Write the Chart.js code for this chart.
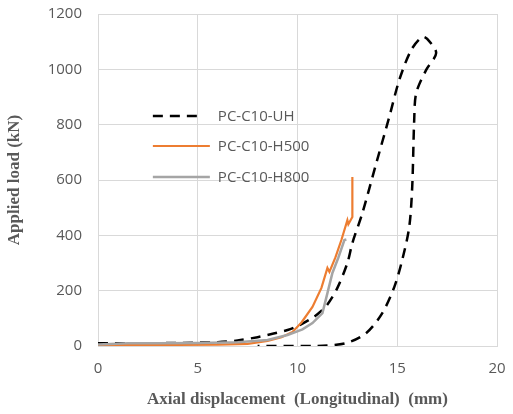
<!DOCTYPE html>
<html>
<head>
<meta charset="utf-8">
<script src="https://cdn.jsdelivr.net/npm/chart.js@4.4.1/dist/chart.umd.min.js"></script>
<style>
  html, body { margin: 0; padding: 0; background: #fff; }
  #wrap { width: 513px; height: 414px; }
</style>
</head>
<body>
<div id="wrap"><canvas id="loadChart" width="513" height="414"></canvas></div>
<script>
// load-displacement curves
const uhX = [0, 2, 4, 6, 7, 8, 8.8, 9.5, 10, 10.6, 11, 11.5, 12, 12.5, 12.75, 13.25, 13.95, 14.6, 15.1, 15.7, 16.25, 16.5, 16.95, 16.45, 15.95, 15.85, 15.75, 15.6, 15.25, 14.85, 14.25, 13.45, 12.45, 11, 8];
const uhY = [10, 10, 11, 14, 20, 32, 45, 58, 72, 95, 115, 150, 210, 300, 372, 480, 661, 828, 961, 1070, 1117, 1110, 1059, 998, 914, 817, 575, 430, 311, 213, 119, 47, 11, 0, 0];

const h500X = [0, 2, 4, 6, 7.5, 8.5, 9.2, 9.75, 10.2, 10.75, 11.2, 11.5, 11.6, 11.9, 12.2, 12.5, 12.55, 12.75, 12.75];
const h500Y = [3, 3, 4, 5, 8, 18, 32, 51, 85, 141, 210, 282, 268, 320, 383, 455, 440, 466, 611];

const h800X = [0, 1.5, 3, 5, 7, 8.5, 9.5, 10.25, 10.75, 11.25, 11.5, 11.75, 12.05, 12.35, 12.45];
const h800Y = [5, 10, 10, 11, 14, 22, 40, 60, 83, 119, 191, 264, 320, 383, 385];

const seriesNames = ['PC-C10-UH', 'PC-C10-H500', 'PC-C10-H800'];
const xTicks = [0, 5, 10, 15, 20];
const yTicks = [0, 200, 400, 600, 800, 1000, 1200];

function pts(xs, ys) {
  return xs.map((x, i) => ({ x: x, y: ys[i] }));
}

// legend drawn inside the plot area, like the original
const insideLegend = {
  id: 'insideLegend',
  afterDatasetsDraw(chart) {
    const ctx = chart.ctx;
    const x0 = chart.scales.x.getPixelForValue(2.75);
    const rows = [116, 146, 177];
    ctx.save();
    chart.data.datasets.forEach((ds, i) => {
      const y = rows[i];
      ctx.beginPath();
      ctx.strokeStyle = ds.borderColor;
      ctx.lineWidth = ds.borderWidth;
      ctx.setLineDash(ds.borderDash || []);
      ctx.moveTo(x0, y);
      ctx.lineTo(x0 + (ds.borderDash ? 48 : 57), y);
      ctx.stroke();
      ctx.setLineDash([]);
      ctx.fillStyle = '#595959';
      ctx.font = '15px "Open Sans", sans-serif';
      ctx.textBaseline = 'middle';
      ctx.fillText(ds.label, x0 + 65, y + 1);
    });
    ctx.restore();
  }
};

new Chart(document.getElementById('loadChart'), {
  type: 'line',
  data: {
    datasets: [
      { label: seriesNames[0], data: pts(uhX, uhY), borderColor: '#000000', borderWidth: 2.5, borderDash: [10, 7], pointRadius: 0, tension: 0.3, fill: false, order: 2 },
      { label: seriesNames[1], data: pts(h500X, h500Y), borderColor: '#ED7D31', borderWidth: 2.2, pointRadius: 0, tension: 0, fill: false, order: 1 },
      { label: seriesNames[2], data: pts(h800X, h800Y), borderColor: '#A5A5A5', borderWidth: 2.5, pointRadius: 0, tension: 0, fill: false, order: 0 }
    ]
  },
  options: {
    responsive: false,
    animation: false,
    layout: { padding: { top: 0, right: 16, left: 0, bottom: 0 } },
    plugins: { legend: { display: false }, tooltip: { enabled: false } },
    scales: {
      x: {
        type: 'linear', min: 0, max: 20,
        afterBuildTicks: s => { s.ticks = xTicks.map(v => ({ value: v })); },
        grid: { color: '#d9d9d9', drawTicks: false },
        border: { color: '#d9d9d9' },
        ticks: { color: '#595959', font: { family: 'Open Sans', size: 15 }, padding: 14, callback: v => String(v) },
        title: { display: true, text: 'Axial displacement  (Longitudinal)  (mm)', color: '#595959',
                 font: { family: 'Liberation Serif', size: 17, weight: 'bold' }, padding: { top: 5 } },
        afterFit: s => { s.height = 68; s.paddingRight = 0; }
      },
      y: {
        min: 0, max: 1200,
        afterBuildTicks: s => { s.ticks = yTicks.map(v => ({ value: v })); },
        grid: { color: '#d9d9d9', drawTicks: false },
        border: { color: '#d9d9d9' },
        ticks: { color: '#595959', font: { family: 'Open Sans', size: 15 }, padding: 16, callback: v => String(v) },
        title: { display: true, text: 'Applied load (kN)', color: '#595959',
                 font: { family: 'Liberation Serif', size: 17, weight: 'bold' }, padding: { bottom: 4 } },
        afterFit: s => { s.width = 98; s.paddingTop = 14; s.paddingBottom = 0; }
      }
    }
  },
  plugins: [insideLegend]
});
</script>
</body>
</html>
